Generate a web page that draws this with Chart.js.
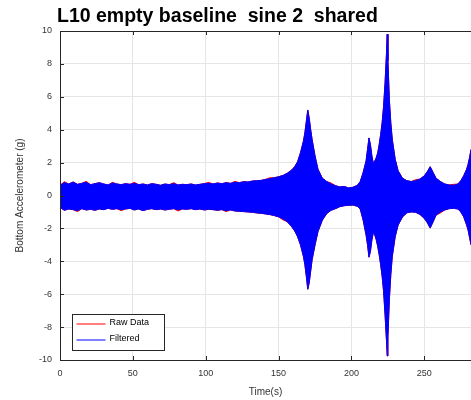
<!DOCTYPE html>
<html>
<head>
<meta charset="utf-8">
<script src="https://cdn.jsdelivr.net/npm/chart.js@4/dist/chart.umd.min.js"></script>
<style>
  html, body { margin: 0; padding: 0; background: #fff; overflow: hidden; }
  canvas { display: block; }
</style>
</head>
<body>
<canvas id="c" width="471" height="400"></canvas>
<script>
// envelope of the signal (seconds / g)
const times = [0,3,6,9,12,15,18,21,24,27,30,33,36,39,42,45,48,51,54,57,60,63,66,69,72,75,78,81,84,87,90,93,96,99,102,105,108,111,114,117,120,123,126,129,132,135,
  138,141,144,147,150,153,156,159,161,163,165,167,168,169,170,171,172,173,175,177,180,183,186,189,192,195,198,201,204,206,208,210,211,212,213,214,215,216,217,218,219,220,221,222,223,224,224.5,225,226,227,228,230,232,235,238,241,244,247,250,252,254,256,258,261,264,267,270,273,275,277,279,280,281,282];

const filteredUpper = [0.62,0.78,0.70,0.82,0.68,0.74,0.80,0.66,0.72,0.78,0.70,0.64,0.76,0.70,0.66,0.72,0.68,0.74,0.66,0.70,0.64,0.72,0.68,0.62,0.70,0.66,0.72,0.64,0.68,0.66,0.70,0.64,0.68,0.72,0.74,0.70,0.76,0.72,0.78,0.74,0.80,0.78,0.84,0.82,0.88,0.90,
  0.92,0.98,1.02,1.08,1.14,1.22,1.36,1.55,1.75,2.05,2.60,3.30,3.80,4.50,5.20,4.70,4.00,3.40,2.40,1.60,1.05,0.85,0.70,0.60,0.52,0.55,0.46,0.50,0.62,0.85,1.40,2.10,2.80,3.50,3.10,2.40,1.95,2.10,2.30,2.60,3.10,3.70,4.40,5.40,6.80,8.60,9.80,8.20,5.80,4.40,3.40,2.20,1.50,1.05,0.90,0.85,0.90,1.00,1.20,1.45,1.75,1.40,1.05,0.85,0.70,0.64,0.62,0.70,0.90,1.20,1.60,1.90,2.30,2.80];

const filteredLower = [-0.72,-0.90,-0.82,-0.86,-0.92,-0.80,-0.88,-0.84,-0.90,-0.82,-0.86,-0.78,-0.84,-0.80,-0.86,-0.82,-0.78,-0.88,-0.82,-0.92,-0.84,-0.80,-0.86,-0.82,-0.88,-0.84,-0.80,-0.86,-0.82,-0.84,-0.80,-0.86,-0.82,-0.88,-0.84,-0.86,-0.90,-0.86,-0.92,-0.88,-0.94,-0.96,-0.98,-1.00,-1.02,-1.06,
  -1.08,-1.12,-1.16,-1.22,-1.30,-1.42,-1.60,-1.90,-2.15,-2.50,-3.00,-3.70,-4.20,-4.90,-5.70,-5.30,-4.60,-3.90,-3.00,-2.20,-1.50,-1.10,-0.90,-0.80,-0.68,-0.62,-0.60,-0.58,-0.66,-0.82,-1.50,-2.40,-3.00,-3.75,-3.40,-2.70,-2.25,-2.40,-2.70,-3.10,-3.60,-4.20,-4.90,-5.80,-7.20,-8.80,-9.75,-8.60,-6.30,-4.80,-3.70,-2.50,-1.80,-1.30,-1.05,-1.00,-1.02,-1.15,-1.40,-1.65,-1.98,-1.60,-1.20,-1.00,-0.88,-0.80,-0.78,-0.82,-1.00,-1.30,-1.80,-2.10,-2.55,-3.00];

// raw data only pokes out past the filtered trace here and there
const rawUpper = [0.62,0.84,0.70,0.82,0.68,0.74,0.86,0.66,0.72,0.78,0.70,0.64,0.80,0.70,0.66,0.72,0.68,0.80,0.66,0.70,0.64,0.72,0.68,0.62,0.70,0.66,0.78,0.64,0.68,0.66,0.70,0.64,0.68,0.72,0.80,0.70,0.76,0.72,0.78,0.74,0.86,0.78,0.84,0.82,0.88,0.90,
  0.92,0.98,1.08,1.08,1.14,1.22,1.36,1.55,1.75,2.05,2.60,3.30,3.80,4.50,5.20,4.70,4.00,3.40,2.40,1.60,1.05,0.85,0.76,0.60,0.52,0.55,0.46,0.50,0.62,0.85,1.40,2.10,2.80,3.50,3.10,2.40,1.95,2.10,2.30,2.60,3.10,3.70,4.40,5.40,6.80,8.60,9.80,8.20,5.80,4.40,3.40,2.20,1.50,1.05,0.90,0.85,0.96,1.00,1.20,1.45,1.75,1.40,1.05,0.85,0.70,0.64,0.68,0.70,0.90,1.20,1.60,1.90,2.30,2.80];

const rawLower = [-0.72,-0.90,-0.82,-0.86,-0.98,-0.80,-0.88,-0.84,-0.90,-0.82,-0.86,-0.78,-0.84,-0.80,-0.92,-0.82,-0.78,-0.88,-0.82,-0.92,-0.84,-0.80,-0.86,-0.82,-0.88,-0.84,-0.80,-0.94,-0.82,-0.84,-0.80,-0.86,-0.82,-0.88,-0.84,-0.86,-0.90,-0.86,-0.98,-0.88,-0.94,-0.96,-0.98,-1.00,-1.02,-1.06,
  -1.08,-1.12,-1.16,-1.22,-1.30,-1.48,-1.60,-1.90,-2.15,-2.50,-3.00,-3.70,-4.20,-4.90,-5.70,-5.30,-4.60,-3.90,-3.00,-2.20,-1.50,-1.10,-0.90,-0.80,-0.68,-0.62,-0.60,-0.58,-0.66,-0.82,-1.50,-2.40,-3.00,-3.75,-3.40,-2.70,-2.25,-2.40,-2.70,-3.10,-3.60,-4.20,-4.90,-5.80,-7.20,-8.80,-9.75,-8.60,-6.30,-4.80,-3.70,-2.50,-1.80,-1.30,-1.05,-1.00,-1.02,-1.15,-1.40,-1.65,-1.98,-1.60,-1.20,-1.06,-0.88,-0.80,-0.78,-0.82,-1.00,-1.30,-1.80,-2.10,-2.55,-3.00];

const xTicks = [0, 50, 100, 150, 200, 250];
const yTicks = [-10, -8, -6, -4, -2, 0, 2, 4, 6, 8, 10];
const legendNames = ['Raw Data', 'Filtered'];

const FONT = "'Liberation Sans', Arial, Helvetica, sans-serif";

function pts(vals) {
  return times.map((t, i) => ({ x: t, y: vals[i] }));
}

function env(vals, color, width, fill) {
  return {
    data: pts(vals),
    borderColor: color,
    backgroundColor: color,
    borderWidth: width,
    pointRadius: 0,
    tension: 0,
    fill: fill
  };
}

// title, box, inward ticks and the legend, drawn MATLAB style
const framePlugin = {
  id: 'frame',
  afterDraw(chart) {
    const ctx = chart.ctx;
    const a = chart.chartArea;
    const xs = chart.scales.x, ys = chart.scales.y;
    ctx.save();
    ctx.strokeStyle = '#262626';
    ctx.lineWidth = 1;
    ctx.beginPath();
    ctx.moveTo(a.left + 0.5, a.top + 0.5);
    ctx.lineTo(a.left + 0.5, a.bottom + 0.5);
    ctx.lineTo(a.right, a.bottom + 0.5);
    ctx.moveTo(a.left, a.top + 0.5);
    ctx.lineTo(a.right, a.top + 0.5);
    xTicks.forEach(v => {
      const px = Math.round(xs.getPixelForValue(v)) + 0.5;
      ctx.moveTo(px, a.bottom);
      ctx.lineTo(px, a.bottom - 4);
      ctx.moveTo(px, a.top);
      ctx.lineTo(px, a.top + 4);
    });
    yTicks.forEach(v => {
      const py = Math.round(ys.getPixelForValue(v)) + 0.5;
      ctx.moveTo(a.left, py);
      ctx.lineTo(a.left + 4, py);
    });
    ctx.stroke();

    // title
    ctx.fillStyle = '#000';
    ctx.font = 'bold 19.5px ' + FONT;
    ctx.textAlign = 'left';
    ctx.textBaseline = 'middle';
    ctx.fillText('L10 empty baseline  sine 2  shared', 57, 17);

    // legend box
    const lx = 72.5, ly = 314.5, lw = 92, lh = 36;
    ctx.fillStyle = '#fff';
    ctx.fillRect(lx, ly, lw, lh);
    ctx.strokeStyle = '#262626';
    ctx.strokeRect(lx, ly, lw, lh);
    const colors = ['#ff0000', '#0000ff'];
    ctx.font = '9px ' + FONT;
    legendNames.forEach((name, i) => {
      const y = ly + 9.5 + i * 16;
      ctx.strokeStyle = colors[i];
      ctx.beginPath();
      ctx.moveTo(lx + 4, y);
      ctx.lineTo(lx + 33, y);
      ctx.stroke();
      ctx.fillStyle = '#000';
      ctx.fillText(name, lx + 37, y - 1.5);
    });
    ctx.restore();
  }
};

new Chart(document.getElementById('c'), {
  type: 'line',
  data: {
    datasets: [
      env(filteredUpper, '#0000ff', 1, '+1'),
      env(filteredLower, '#0000ff', 1, false),
      env(rawUpper, '#ff0000', 1, '+1'),
      env(rawLower, '#ff0000', 1, false)
    ]
  },
  options: {
    responsive: false,
    animation: false,
    devicePixelRatio: 1,
    layout: { padding: { top: 31, left: 0, right: 0, bottom: 0 } },
    plugins: {
      legend: { display: false },
      tooltip: { enabled: false }
    },
    scales: {
      x: {
        type: 'linear',
        min: 0,
        max: 282,
        afterFit: s => { s.height = 40; },
        afterBuildTicks: s => { s.ticks = xTicks.map(v => ({ value: v })); },
        ticks: { color: '#333', font: { family: FONT, size: 9 }, padding: 8, maxRotation: 0 },
        grid: { color: '#e5e5e5', drawTicks: false },
        border: { display: false },
        title: { display: true, text: 'Time(s)', color: '#333', font: { family: FONT, size: 10 }, padding: { top: 0, bottom: 2 } }
      },
      y: {
        min: -10,
        max: 10,
        afterFit: s => { s.width = 60; },
        afterBuildTicks: s => { s.ticks = yTicks.map(v => ({ value: v })); },
        ticks: { color: '#333', font: { family: FONT, size: 9 }, padding: 8 },
        grid: { color: '#e5e5e5', drawTicks: false },
        border: { display: false },
        title: { display: true, text: 'Bottom Accelerometer (g)', color: '#333', font: { family: FONT, size: 10 }, padding: { top: 14, bottom: 0 } }
      }
    }
  },
  plugins: [framePlugin]
});
</script>
</body>
</html>
